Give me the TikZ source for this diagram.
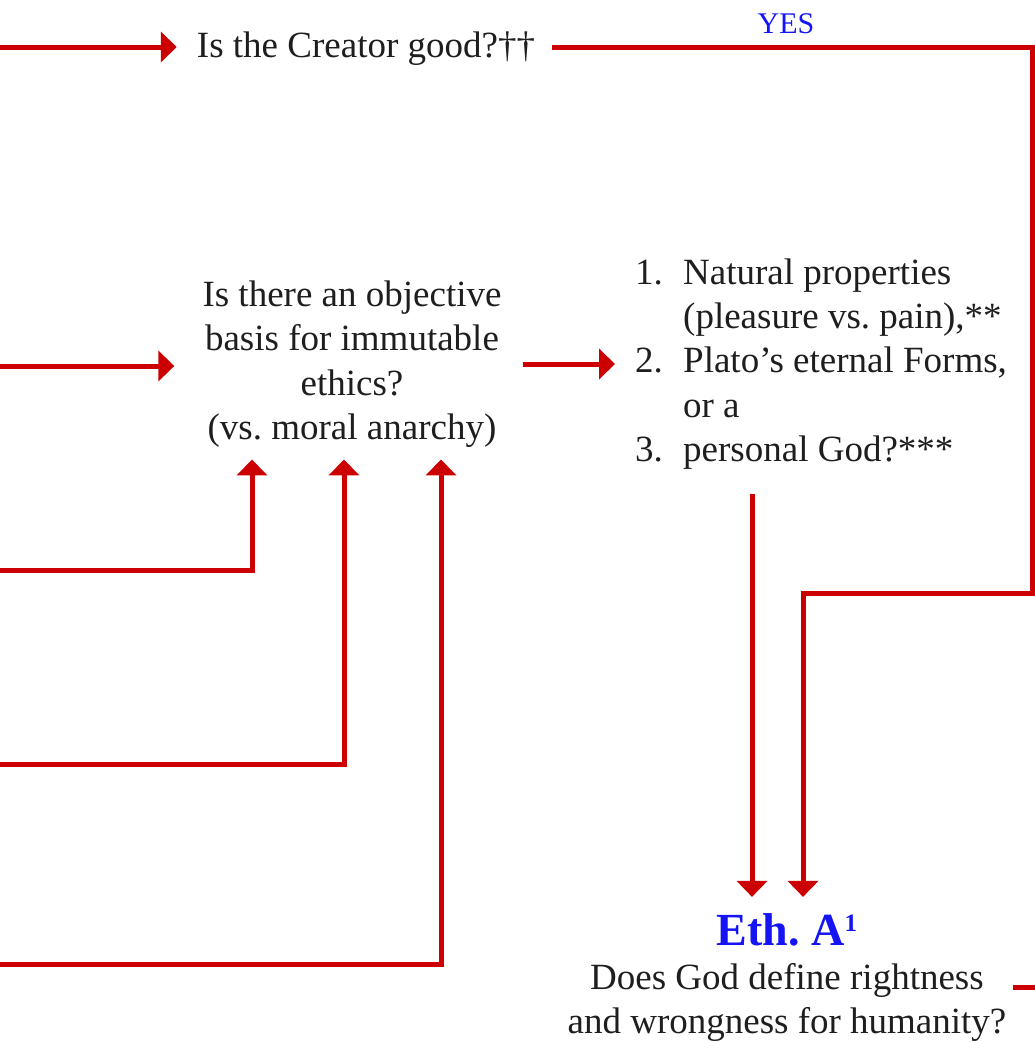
\documentclass[tikz,border=0pt]{standalone}
\usepackage{fontspec}
\setmainfont{Liberation Serif}
\usetikzlibrary{arrows.meta}
\definecolor{lred}{RGB}{204,0,0}
\definecolor{lblue}{RGB}{20,20,245}
\definecolor{ltext}{RGB}{30,30,30}
\frenchspacing
\begin{document}
\frenchspacing
\begin{tikzpicture}[x=1pt,y=-1pt,
  conn/.style={draw=lred,line width=5pt},
  arr/.style={conn,-{Triangle[length=16pt,width=30pt]}},
  txt/.style={text=ltext,font=\fontsize{37}{44.3}\selectfont,inner sep=0pt},
]
\useasboundingbox (0,0) rectangle (1035,1042);

% nodes
\node[txt,anchor=base] (creator) at (366,57) {Is the Creator good?††};
\node[anchor=base,inner sep=0pt,text=lblue,font=\fontsize{30}{36}\selectfont] (yes) at (786,33) {YES};
\node[txt,align=center] (basis) at (352,364) {Is there an objective\\basis for immutable\\ethics?\\(vs. moral anarchy)};
\node[txt,align=left,anchor=west] (list) at (635,364) {\makebox[48pt][l]{1.}Natural properties\\\hspace*{48pt}(pleasure vs. pain),**\\\makebox[48pt][l]{2.}Plato’s eternal Forms,\\\hspace*{48pt}or a\\\makebox[48pt][l]{3.}personal God?***};
\node[anchor=base,inner sep=0pt,text=lblue,font=\bfseries\fontsize{46}{50}\selectfont] (etht) at (787,945) {Eth. A\raisebox{14pt}{\bfseries\fontsize{25}{25}\selectfont 1}};
\node[txt,align=center,anchor=north] (ethq) at (787,963) {Does God define rightness\\and wrongness for humanity?};

% free ends and corners
\coordinate (inA) at (0,47);
\coordinate (inB) at (0,366);
\coordinate (inC) at (0,570);
\coordinate (inD) at (0,764);
\coordinate (inE) at (0,964);
\coordinate (c1) at (1032,47);
\coordinate (c2) at (1032,593);
\coordinate (c3) at (803,593);
\coordinate (outE) at (1035,987);

% connectors
\draw[arr,shorten >=20pt] (inA) -- (inA -| creator.west);
\draw[arr,shorten <=17pt,shorten >=16pt] (creator.east |- inA) -- (c1) -- (c2) -- (c3) -- (c3 |- etht.north);
\draw[arr,shorten >=28pt] (inB) -- (inB -| basis.west);
\draw[arr,shorten >=12pt] (inC) -- (252,570) -- (252,0 |- basis.south);
\draw[arr,shorten >=12pt] (inD) -- (344,764) -- (344,0 |- basis.south);
\draw[arr,shorten >=12pt] (inE) -- (441,964) -- (441,0 |- basis.south);
\draw[arr,shorten <=21pt,shorten >=20pt] (basis.east) -- (basis.east -| list.west);
\draw[arr,shorten <=24pt,shorten >=16pt] (752,0 |- list.south) -- (752,0 |- etht.north);
\draw[conn,shorten <=6pt] (outE -| ethq.east) -- (outE);
\end{tikzpicture}
\end{document}
